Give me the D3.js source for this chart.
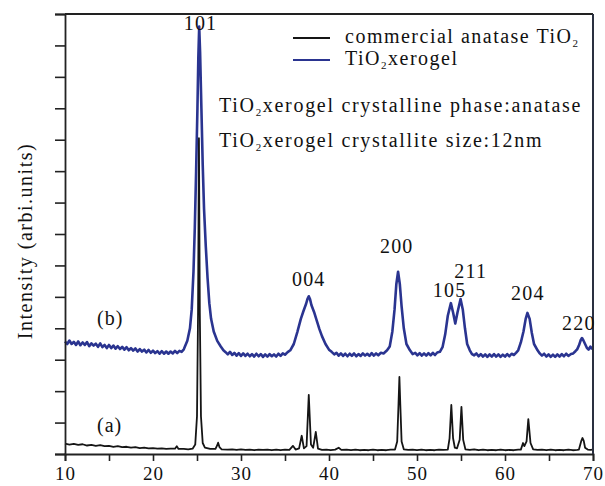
<!DOCTYPE html>
<html>
<head>
<meta charset="utf-8">
<script src="https://cdn.jsdelivr.net/npm/d3@7"></script>
<style>
  html, body { margin: 0; padding: 0; background: #fff; }
  svg { display: block; font-family: "Liberation Serif", "DejaVu Serif", serif; }
</style>
</head>
<body>
<svg id="chart" width="605" height="486"></svg>
<script>
// ── Data (2θ in degrees, intensity in arbitrary units) ──────────
const xTicks = [10, 20, 30, 40, 50, 60, 70];
const xMinor = [15, 25, 35, 45, 55, 65];
const yTicks = d3.range(0, 15);

// (a) commercial anatase TiO2
const seriesA = [
  [10,0.33],[10.5,0.30],[11,0.32],[11.5,0.29],[12,0.31],[12.5,0.27],[13,0.29],[13.5,0.26],
  [14,0.28],[14.5,0.25],[15,0.26],[15.5,0.23],[16,0.25],[16.5,0.22],[17,0.23],[17.5,0.20],
  [18,0.22],[18.5,0.19],[19,0.20],[19.5,0.18],[20,0.19],[20.5,0.17],[21,0.18],[21.5,0.16],
  [22,0.17],[22.5,0.17],[22.7,0.25],[22.9,0.16],[23.5,0.16],[24,0.15],[24.5,0.17],[24.8,0.30],
  [25.0,1.2],[25.12,4.5],[25.22,10.05],[25.32,4.5],[25.45,1.2],[25.65,0.35],[25.9,0.20],
  [26.5,0.16],[27.1,0.16],[27.3,0.28],[27.4,0.36],[27.55,0.22],[27.8,0.15],[28.5,0.14],
  [29,0.15],[29.5,0.13],[30,0.15],[30.5,0.13],[31,0.14],[31.5,0.12],[32,0.14],[32.5,0.13],
  [33,0.14],[33.5,0.12],[34,0.14],[34.5,0.12],[35,0.14],[35.5,0.13],[35.9,0.26],[36.2,0.14],
  [36.6,0.18],[36.9,0.58],[37.15,0.18],[37.45,0.25],[37.7,1.88],[37.95,0.30],[38.2,0.20],
  [38.5,0.70],[38.75,0.17],[39.2,0.13],[39.7,0.14],[40.2,0.12],[40.7,0.14],[41.1,0.20],
  [41.4,0.13],[42,0.14],[42.5,0.12],[43,0.14],[43.5,0.12],[44,0.13],[44.5,0.12],[45,0.14],
  [45.5,0.12],[46,0.13],[46.5,0.12],[47,0.14],[47.5,0.14],[47.75,0.40],[47.9,1.6],[48.0,2.45],
  [48.1,1.6],[48.25,0.40],[48.5,0.15],[49,0.13],[49.5,0.14],[50,0.12],[50.5,0.14],[51,0.12],
  [51.5,0.13],[52,0.12],[52.5,0.14],[53,0.13],[53.5,0.14],[53.7,0.5],[53.9,1.56],[54.1,0.5],
  [54.3,0.20],[54.55,0.18],[54.85,0.45],[55.05,1.50],[55.25,0.45],[55.5,0.15],[56,0.13],
  [56.5,0.15],[57,0.12],[57.5,0.14],[58,0.12],[58.5,0.13],[59,0.12],[59.5,0.14],[60,0.12],
  [60.5,0.13],[61,0.12],[61.5,0.14],[61.8,0.14],[62.05,0.35],[62.2,0.25],[62.45,0.40],
  [62.65,1.11],[62.9,0.35],[63.2,0.15],[63.7,0.13],[64.2,0.14],[64.7,0.12],[65.2,0.14],
  [65.7,0.12],[66.2,0.13],[66.7,0.12],[67.2,0.14],[67.7,0.12],[68.2,0.13],[68.4,0.14],
  [68.65,0.40],[68.8,0.51],[68.95,0.42],[69.1,0.20],[69.4,0.14],[69.7,0.13],[70,0.14]
];

// (b) TiO2 xerogel
const seriesB = [
  [10.0,3.58],[10.25,3.50],[10.5,3.61],[10.75,3.50],[11.0,3.57],[11.25,3.47],[11.5,3.58],
  [11.75,3.46],[12.0,3.55],[12.25,3.47],[12.5,3.56],[12.75,3.43],[13.0,3.52],[13.25,3.45],
  [13.5,3.51],[13.75,3.41],[14.0,3.52],[14.25,3.40],[14.5,3.47],[14.75,3.37],[15.0,3.47],
  [15.25,3.37],[15.5,3.45],[15.75,3.35],[16.0,3.43],[16.25,3.34],[16.5,3.41],[16.75,3.32],
  [17.0,3.40],[17.25,3.30],[17.5,3.37],[17.75,3.29],[18.0,3.36],[18.25,3.26],[18.5,3.34],
  [18.75,3.26],[19.0,3.32],[19.25,3.23],[19.5,3.31],[19.75,3.22],[20.0,3.29],[20.25,3.21],
  [20.5,3.27],[20.75,3.19],[21.0,3.27],[21.25,3.19],[21.5,3.26],[21.75,3.19],[22.0,3.26],
  [22.25,3.20],[22.5,3.28],[22.75,3.21],[23.0,3.28],[23.25,3.25],[23.5,3.33],[23.9,3.60],
  [24.2,4.0],[24.4,4.6],[24.6,5.8],[24.75,7.2],[24.9,9.0],[25.05,11.0],[25.15,12.6],
  [25.25,13.6],[25.35,12.8],[25.5,11.0],[25.65,9.2],[25.8,7.8],[26.0,6.6],[26.2,5.6],
  [26.4,4.8],[26.6,4.3],[26.9,3.9],[27.3,3.6],[27.7,3.42],[28.0,3.30],[28.25,3.24],
  [28.5,3.17],[28.75,3.25],[29.0,3.15],[29.25,3.22],[29.5,3.13],[29.75,3.21],[30.0,3.12],
  [30.25,3.20],[30.5,3.12],[30.75,3.19],[31.0,3.11],[31.25,3.18],[31.5,3.10],[31.75,3.19],
  [32.0,3.11],[32.25,3.18],[32.5,3.09],[32.75,3.17],[33.0,3.10],[33.25,3.18],[33.5,3.11],
  [33.75,3.17],[34.0,3.10],[34.25,3.19],[34.5,3.12],[34.75,3.20],[35.0,3.16],[35.3,3.24],
  [35.6,3.30],[36.0,3.50],[36.4,3.88],[36.8,4.30],[37.1,4.55],[37.4,4.78],[37.55,4.93],
  [37.7,5.02],[37.85,4.92],[38.0,4.74],[38.3,4.52],[38.6,4.25],[38.9,3.98],[39.2,3.75],
  [39.6,3.50],[40.0,3.32],
  [40.3,3.25],[40.6,3.17],[40.85,3.22],[41.1,3.13],[41.35,3.20],[41.6,3.12],[41.85,3.19],
  [42.1,3.11],[42.35,3.19],[42.6,3.12],[42.85,3.20],[43.1,3.11],[43.35,3.18],[43.6,3.12],
  [43.85,3.20],[44.1,3.13],[44.35,3.19],[44.6,3.12],[44.85,3.21],[45.1,3.13],[45.35,3.20],
  [45.6,3.14],[45.9,3.22],[46.2,3.20],[46.6,3.30],[46.9,3.42],[47.2,3.90],[47.45,4.60],
  [47.65,5.40],[47.85,5.80],[48.05,5.40],[48.25,4.70],[48.5,4.00],[48.8,3.50],[49.2,3.30],
  [49.5,3.18],[49.8,3.22],[50.05,3.14],[50.3,3.21],[50.55,3.13],[50.8,3.20],[51.05,3.13],
  [51.3,3.21],[51.55,3.14],[51.8,3.22],[52.05,3.15],[52.3,3.23],[52.6,3.25],[52.9,3.40],
  [53.2,3.80],[53.5,4.40],[53.85,4.80],[54.1,4.50],[54.35,4.15],[54.6,4.50],[54.95,4.93],
  [55.2,4.60],[55.45,4.00],[55.7,3.50],[56.0,3.30],[56.25,3.18],[56.5,3.14],[56.75,3.20],
  [57.0,3.11],[57.25,3.18],[57.5,3.10],[57.75,3.17],[58.0,3.09],[58.25,3.17],[58.5,3.10],
  [58.75,3.18],[59.0,3.10],[59.25,3.17],[59.5,3.09],[59.75,3.16],[60.0,3.10],[60.25,3.18],
  [60.5,3.11],[60.75,3.19],[61.0,3.15],[61.25,3.22],[61.5,3.30],[61.8,3.55],[62.1,3.90],
  [62.35,4.30],[62.55,4.49],[62.8,4.30],[63.05,3.85],[63.3,3.50],[63.7,3.30],[63.95,3.20],
  [64.2,3.13],[64.45,3.19],[64.7,3.10],[64.95,3.17],[65.2,3.09],[65.45,3.16],[65.7,3.09],
  [65.95,3.17],[66.2,3.10],[66.45,3.18],[66.7,3.11],[66.95,3.19],[67.2,3.12],[67.5,3.18],
  [67.75,3.20],[68.0,3.27],[68.2,3.33],[68.4,3.45],[68.6,3.62],[68.75,3.69],[68.9,3.62],
  [69.1,3.50],[69.3,3.38],[69.5,3.32],[69.7,3.42],[69.85,3.36],[70.0,3.40]
];

const peakLabels = [
  { t: '101', x: 25.4, v: 13.3 },
  { t: '004', x: 37.7, v: 5.16 },
  { t: '200', x: 47.7, v: 6.2 },
  { t: '105', x: 53.7, v: 4.8 },
  { t: '211', x: 56.1, v: 5.4 },
  { t: '204', x: 62.6, v: 4.7 },
  { t: '220', x: 68.4, v: 3.75 }
];

// ── Layout ─────────────────────────────────────────
const svg = d3.select('#chart');
const L = 65, R = 593, T = 14, B = 454;
const x = d3.scaleLinear().domain([10, 70]).range([L, R]);
const y = d3.scaleLinear().domain([0, 14]).range([B, T]);

const BLUE = '#2a3490', INK = '#151515';

// ── Curves ─────────────────────────────────────────
const line = d3.line().x(d => x(d[0])).y(d => y(d[1]));

svg.append('path').datum(seriesB)
  .attr('d', line).attr('fill', 'none')
  .attr('stroke', BLUE).attr('stroke-width', 2.6).attr('stroke-linejoin', 'round');

svg.append('path').datum(seriesA)
  .attr('d', line).attr('fill', 'none')
  .attr('stroke', INK).attr('stroke-width', 1.8).attr('stroke-linejoin', 'round');

// ── Axes / frame ───────────────────────────────────
svg.append('g').attr('transform', `translate(${L},0)`)
  .call(d3.axisLeft(y).tickValues(yTicks).tickSize(10).tickFormat(''));
const xAxis = svg.append('g').attr('transform', `translate(0,${B})`)
  .call(d3.axisBottom(x).tickValues(xTicks).tickSize(7).tickPadding(6).tickFormat(d3.format('d')));
svg.append('g').attr('transform', `translate(0,${B})`)
  .call(d3.axisBottom(x).tickValues(xMinor).tickSize(7).tickFormat(''))
  .select('.domain').remove();

svg.selectAll('.tick line').attr('stroke', '#222').attr('stroke-width', 1.6);
svg.selectAll('.domain').attr('stroke', '#222').attr('stroke-width', 1.8);
xAxis.selectAll('text')
  .attr('font-family', '"Liberation Serif", serif')
  .attr('font-size', 19).attr('fill', '#111').attr('letter-spacing', 1);

svg.append('line').attr('x1', L).attr('x2', R).attr('y1', T).attr('y2', T)
  .attr('stroke', '#222').attr('stroke-width', 1.8);
svg.append('line').attr('x1', R).attr('x2', R).attr('y1', T).attr('y2', B)
  .attr('stroke', '#2a3040').attr('stroke-width', 2);

// ── Labels ─────────────────────────────────────────
svg.append('g').selectAll('text').data(peakLabels).join('text')
  .attr('x', d => x(d.x)).attr('y', d => y(d.v) - 6)
  .attr('text-anchor', 'middle')
  .attr('font-size', 20).attr('letter-spacing', 1.2).attr('fill', '#111')
  .text(d => d.t);

svg.append('text').attr('x', 97).attr('y', 325)
  .attr('font-size', 20).attr('letter-spacing', 1).attr('fill', '#111').text('(b)');
svg.append('text').attr('x', 97).attr('y', 432)
  .attr('font-size', 20).attr('letter-spacing', 1).attr('fill', '#111').text('(a)');

svg.append('text')
  .attr('transform', 'translate(32,241) rotate(-90)')
  .attr('text-anchor', 'middle')
  .attr('font-size', 20).attr('letter-spacing', 1.5).attr('fill', '#111')
  .text('Intensity (arbi.units)');

// text with TiO2 subscript
function tio2(sel, after) {
  sel.append('tspan').text('TiO');
  sel.append('tspan').attr('font-size', '0.55em').attr('dy', 4).text('2');
  sel.append('tspan').attr('dy', -4).text(after);
}

// legend
const legend = [
  { color: INK,  yy: 38, pre: 'commercial anatase ', post: '' },
  { color: BLUE, yy: 60, pre: '', post: 'xerogel' }
];
legend.forEach(d => {
  svg.append('line').attr('x1', 293).attr('x2', 330).attr('y1', d.yy).attr('y2', d.yy)
    .attr('stroke', d.color).attr('stroke-width', 2);
  const t = svg.append('text').attr('x', 345).attr('y', d.yy + 5)
    .attr('font-size', 20).attr('letter-spacing', 1.5).attr('fill', '#111');
  if (d.pre) {
    t.append('tspan').text(d.pre + 'TiO');
    t.append('tspan').attr('font-size', '0.55em').attr('dy', 4).text('2');
  } else {
    tio2(t, d.post);
  }
});

[['xerogel crystalline phase:anatase', 112], ['xerogel crystallite size:12nm', 147]].forEach(([s, yy]) => {
  const t = svg.append('text').attr('x', 219).attr('y', yy)
    .attr('font-size', 20).attr('letter-spacing', 1.7).attr('fill', '#111');
  tio2(t, s);
});
</script>
</body>
</html>
